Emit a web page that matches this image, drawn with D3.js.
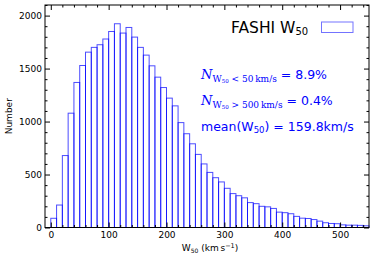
<!DOCTYPE html>
<html>
<head>
<meta charset="utf-8">
<script src="https://cdn.jsdelivr.net/npm/d3@7"></script>
<style>
  body { margin: 0; background: #fff; }
  svg { display: block; font-family: "DejaVu Sans", sans-serif; }
</style>
</head>
<body>
<div id="chart"></div>
<script>
// left edge of each 10 km/s bin
const BIN_LEFT = [
    0, 10, 20, 30, 40, 50, 60, 70, 80, 90,
    100, 110, 120, 130, 140, 150, 160, 170, 180, 190,
    200, 210, 220, 230, 240, 250, 260, 270, 280, 290,
    300, 310, 320, 330, 340, 350, 360, 370, 380, 390,
    400, 410, 420, 430, 440, 450, 460, 470, 480, 490,
    500, 510, 520, 530, 540];
const COUNTS = [
    87, 212, 679, 1079, 1369, 1529, 1655, 1700, 1725, 1779,
    1850, 1923, 1835, 1888, 1797, 1700, 1627, 1526, 1419, 1321,
    1221, 1148, 990, 885, 790, 690, 600, 520, 470, 430,
    370, 320, 300, 280, 235, 225, 200, 195, 180, 145,
    140, 130, 105, 88, 85, 75, 60, 45, 38, 36,
    25, 22, 22, 20, 16];
const BIN_WIDTH = 10;

const X_TICKS = [0, 100, 200, 300, 400, 500];
const Y_TICKS = [0, 500, 1000, 1500, 2000];

const W = 374, H = 260;
const MARGIN = { top: 5, right: 5, bottom: 32.5, left: 45 };
const BLUE = "#0000ff";

const svg = d3.select("#chart")
    .append("svg")
        .attr("width", W)
        .attr("height", H);

const x = d3.scaleLinear()
    .domain([-10, 550])
    .range([MARGIN.left, W - MARGIN.right]);
const y = d3.scaleLinear()
    .domain([0, 2100])
    .range([H - MARGIN.bottom, MARGIN.top]);

// BARS (outline only)
svg.append("g")
    .selectAll("rect")
    .data(BIN_LEFT)
    .join("rect")
        .attr("x", (d) => x(d))
        .attr("y", (d, i) => y(COUNTS[i]))
        .attr("width", (d) => x(d + BIN_WIDTH) - x(d))
        .attr("height", (d, i) => y(0) - y(COUNTS[i]))
        .attr("fill", "none")
        .attr("stroke", BLUE)
        .attr("stroke-opacity", 0.7)
        .attr("stroke-width", 1);

// AXES, ticks pointing inward on all four sides
const xMinor = d3.range(0, 551, 20).filter((v) => v % 100 !== 0);
const yMinor = d3.range(0, 2101, 100).filter((v) => v % 500 !== 0);
const plotB = y(0), plotT = y(2100), plotL = x(-10), plotR = x(550);
const fmt = d3.format("d");

function styleAxis(g) {
    g.select(".domain").remove();
    g.selectAll("text").attr("font-size", 9).attr("fill", "#000")
        .attr("font-family", "DejaVu Sans");
}

svg.append("g").attr("transform", `translate(0,${plotB})`)
    .call(d3.axisBottom(x).tickValues(X_TICKS).tickSize(-5).tickPadding(4).tickFormat(fmt))
    .call(styleAxis);
svg.append("g").attr("transform", `translate(0,${plotB})`)
    .call(d3.axisBottom(x).tickValues(xMinor).tickSize(-2.5).tickFormat(""))
    .call(styleAxis);
svg.append("g").attr("transform", `translate(0,${plotT})`)
    .call(d3.axisTop(x).tickValues(X_TICKS).tickSize(-5).tickFormat(""))
    .call(styleAxis);
svg.append("g").attr("transform", `translate(0,${plotT})`)
    .call(d3.axisTop(x).tickValues(xMinor).tickSize(-2.5).tickFormat(""))
    .call(styleAxis);

svg.append("g").attr("transform", `translate(${plotL},0)`)
    .call(d3.axisLeft(y).tickValues(Y_TICKS).tickSize(-5).tickPadding(3).tickFormat(fmt))
    .call(styleAxis);
svg.append("g").attr("transform", `translate(${plotL},0)`)
    .call(d3.axisLeft(y).tickValues(yMinor).tickSize(-2.5).tickFormat(""))
    .call(styleAxis);
svg.append("g").attr("transform", `translate(${plotR},0)`)
    .call(d3.axisRight(y).tickValues(Y_TICKS).tickSize(-5).tickFormat(""))
    .call(styleAxis);
svg.append("g").attr("transform", `translate(${plotR},0)`)
    .call(d3.axisRight(y).tickValues(yMinor).tickSize(-2.5).tickFormat(""))
    .call(styleAxis);

// frame
svg.append("rect")
    .attr("x", plotL).attr("y", plotT)
    .attr("width", plotR - plotL).attr("height", plotB - plotT)
    .attr("fill", "none").attr("stroke", "#000").attr("stroke-width", 1);

// AXIS LABELS
const xl = svg.append("text")
    .attr("x", (plotL + plotR) / 2 + 3)
    .attr("y", 251)
    .attr("text-anchor", "middle")
    .attr("font-size", 9);
xl.append("tspan").text("W");
xl.append("tspan").attr("font-size", 6).attr("dy", 1.5).text("50");
xl.append("tspan").attr("dy", -1.5).text(" (km\u2009s");
xl.append("tspan").attr("font-size", 6.5).attr("dy", -3.5).text("\u22121");
xl.append("tspan").attr("dy", 3.5).text(")");

svg.append("text")
    .attr("transform", `translate(12,${(plotT + plotB) / 2}) rotate(-90)`)
    .attr("text-anchor", "middle")
    .attr("font-size", 9)
    .text("Number");

// LEGEND
const lg = svg.append("text")
    .attr("x", 231)
    .attr("y", 32.5)
    .attr("font-size", 15.5);
lg.append("tspan").text("FASHI W");
lg.append("tspan").attr("font-size", 10).attr("dy", 2.5).text("50");
svg.append("rect")
    .attr("x", 321.5).attr("y", 22)
    .attr("width", 31.5).attr("height", 10.5)
    .attr("fill", "#fff")
    .attr("stroke", BLUE).attr("stroke-opacity", 0.55).attr("stroke-width", 1);

// ANNOTATIONS
function statLine(yy, cmp, lim, val) {
    const t = svg.append("text")
        .attr("x", 201).attr("y", yy)
        .attr("fill", BLUE);
    t.append("tspan").attr("font-family", "DejaVu Serif").attr("font-style", "italic")
        .attr("font-size", 13).text("N");
    t.append("tspan").attr("font-family", "DejaVu Serif").attr("font-size", 9)
        .attr("dy", 2.5).text("W");
    t.append("tspan").attr("font-family", "DejaVu Serif").attr("font-size", 5.5)
        .attr("dy", 1).text("50");
    t.append("tspan").attr("font-family", "DejaVu Serif").attr("font-size", 9)
        .attr("dy", -1).text(` ${cmp} ${lim}\u2009km/s`);
    t.append("tspan").attr("font-size", 12.5).attr("dy", -2.5).text(` = ${val}`);
}
statLine(79, "<", "50", "8.9%");
statLine(105, ">", "500", "0.4%");

const mt = svg.append("text")
    .attr("x", 201).attr("y", 131)
    .attr("fill", BLUE)
    .attr("font-size", 12.5);
mt.append("tspan").text("mean(W");
mt.append("tspan").attr("font-size", 8.5).attr("dy", 2).text("50");
mt.append("tspan").attr("dy", -2).text(") = 159.8km/s");
</script>
</body>
</html>
